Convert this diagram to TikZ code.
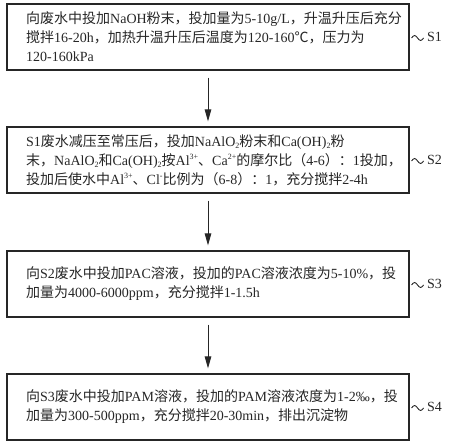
\documentclass[tikz,border=0pt]{standalone}
\usepackage{fontspec}
\setmainfont{Liberation Serif}
\newfontfamily\cjk{Noto Sans CJK SC}
\usetikzlibrary{arrows.meta}
\newcommand{\zh}[1]{{\cjk #1}}
\newcommand{\sups}[1]{\raisebox{0.9ex}{\fontsize{8}{8}\selectfont #1}}
\newcommand{\subs}[1]{\raisebox{-0.35ex}{\fontsize{8}{8}\selectfont #1}}
\tikzset{
  stepbox/.style={draw=black!85, line width=1.1pt, minimum width=402pt, minimum height=66pt, inner sep=0pt},
  steptext/.style={anchor=west, align=left, inner sep=0pt, text=black!85, font=\fontsize{14}{19}\selectfont},
  steplabel/.style={anchor=west, inner sep=0pt, text=black!85, font=\fontsize{14}{17}\selectfont},
  flowarrow/.style={draw=black!85, line width=1pt, -{Triangle[length=12pt,width=6.5pt]}, shorten <=7pt, shorten >=5pt},
  leader/.style={draw=black!85, line width=0.9pt}
}
\begin{document}
\begin{tikzpicture}[x=1pt,y=-1pt]
\useasboundingbox (0,0) rectangle (450,444);
% boxes
\node[stepbox] (b1) at (208,37) {};
\node[stepbox] (b2) at (208,160) {};
\node[stepbox] (b3) at (208,284) {};
\node[stepbox] (b4) at (208,407) {};
% texts
\node[steptext] (t1) at (26,37) {\zh{向废水中投加}NaOH\zh{粉末，投加量为}5-10g/L\zh{，升温升压后充分}\\\zh{搅拌}16-20h\zh{，加热升温升压后温度为}120-160\zh{℃，压力为}\\120-160kPa};
\node[steptext] (t2) at (26,160) {S1\zh{废水减压至常压后，投加}NaAlO\subs{2}\zh{粉末和}Ca(OH)\subs{2}\zh{粉}\\\zh{末，}NaAlO\subs{2}\zh{和}Ca(OH)\subs{2}\zh{按}Al\sups{3+}\zh{、}Ca\sups{2+}\zh{的摩尔比（}4-6\zh{）：}1\zh{投加，}\\\zh{投加后使水中}Al\sups{3+}\zh{、}Cl\sups{-}\zh{比例为（}6-8\zh{）：}1\zh{，充分搅拌}2-4h};
\node[steptext] (t3) at (26,284) {\zh{向}S2\zh{废水中投加}PAC\zh{溶液，投加的}PAC\zh{溶液浓度为}5-10\%\zh{，投}\\\zh{加量为}4000-6000ppm\zh{，充分搅拌}1-1.5h};
\node[steptext] (t4) at (26,407) {\zh{向}S3\zh{废水中投加}PAM\zh{溶液，投加的}PAM\zh{溶液浓度为}1-2‰\zh{，投}\\\zh{加量为}300-500ppm\zh{，充分搅拌}20-30min\zh{，排出沉淀物}};
% arrows
\draw[flowarrow] (b1) -- (b2);
\draw[flowarrow] (b2) -- (b3);
\draw[flowarrow] (b3) -- (b4);
% labels
\node[steplabel] (l1) at (427,37) {S1};
\node[steplabel] (l2) at (427,160) {S2};
\node[steplabel] (l3) at (427,284) {S3};
\node[steplabel] (l4) at (427,407) {S4};
\foreach \b/\l in {b1/l1,b2/l2,b3/l3,b4/l4}{
  \coordinate (w\b) at ([xshift=2pt,yshift=-1pt]\b.east);
  \draw[leader] (w\b) sin ++(3,-2.5) cos ++(3,2.5) sin ++(3,2.5) cos ++(3,-2.5);
}
\end{tikzpicture}
\end{document}
